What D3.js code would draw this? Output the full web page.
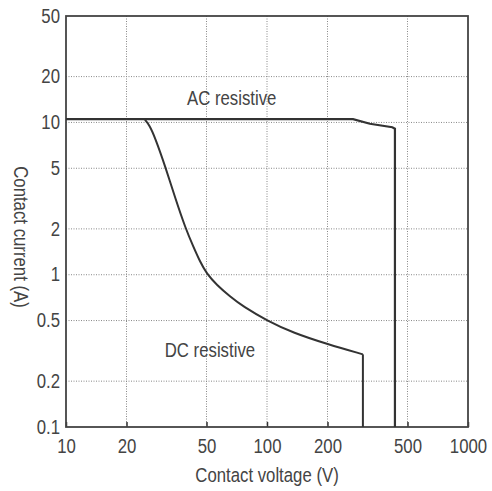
<!DOCTYPE html>
<html>
<head>
<meta charset="utf-8">
<script src="https://cdn.jsdelivr.net/npm/d3@7"></script>
<style>
  body { margin: 0; background: #fff; }
  text { font-family: "Liberation Sans", Arial, sans-serif; fill: #444; }
</style>
</head>
<body>
<div id="container"></div>
<script>
/* CONSTANTS AND GLOBALS */
const width = 492,
  height = 491,
  margin = {top: 16, bottom: 64, left: 66, right: 24};
const squeeze = 0.86; // narrow-looking glyphs
const fontSize = "19.5px";

/* DATA */
const xTicks = [10, 20, 50, 100, 200, 500, 1000];
const yTicks = [0.1, 0.2, 0.5, 1, 2, 5, 10, 20, 50];

// AC resistive limit [voltage, current]
const acVoltage = [10, 268, 325, 420, 433, 433];
const acCurrent = [10.5, 10.5, 9.8, 9.3, 9.1, 0.1];

// DC resistive limit
const dcVoltage = [24.7, 26, 27.7, 31.4, 34.8, 39.4, 43, 46.4, 50, 56.2, 65.5, 76, 100, 135, 200, 300];
const dcCurrent = [10.4, 9.6, 8, 5, 3.24, 2, 1.53, 1.22, 1.02, 0.857, 0.72, 0.619, 0.5, 0.415, 0.35, 0.3];
const dcCutoff = [300, 0.3, 0.1]; // voltage, from current, to current

const labels = [
  {text: "AC resistive", v: 40, i: 14.5},
  {text: "DC resistive", v: 31, i: 0.32}
];

// SCALES
const xScale = d3.scaleLog()
  .domain([10, 1000])
  .range([margin.left, width - margin.right]);

const yScale = d3.scaleLog()
  .domain([0.1, 50])
  .range([height - margin.bottom, margin.top]);

// CREATE SVG ELEMENT
const svg = d3.select("#container")
  .append("svg")
  .attr("width", width)
  .attr("height", height)
  .style("background-color", "#fff");

// GRID
svg.append("g")
  .selectAll("line")
  .data(xTicks.slice(1, -1))
  .join("line")
  .attr("x1", d => xScale(d))
  .attr("x2", d => xScale(d))
  .attr("y1", margin.top)
  .attr("y2", height - margin.bottom)
  .attr("stroke", "#888")
  .attr("stroke-dasharray", "1,1.5");

svg.append("g")
  .selectAll("line")
  .data(yTicks.slice(1, -1))
  .join("line")
  .attr("x1", margin.left)
  .attr("x2", width - margin.right)
  .attr("y1", d => yScale(d))
  .attr("y2", d => yScale(d))
  .attr("stroke", "#888")
  .attr("stroke-dasharray", "1,1.5");

// BUILD AND CALL AXES
const xAxis = d3.axisBottom(xScale)
  .tickValues(xTicks)
  .tickFormat(d3.format("d"))
  .tickSizeInner(-5)
  .tickSizeOuter(0)
  .tickPadding(12);

const xAxisGroup = svg.append("g")
  .attr("class", "xAxis")
  .attr("transform", `translate(0, ${height - margin.bottom})`)
  .call(xAxis);

const yAxis = d3.axisLeft(yScale)
  .tickValues(yTicks)
  .tickFormat(d => d)
  .tickSize(0)
  .tickPadding(7);

const yAxisGroup = svg.append("g")
  .attr("class", "yAxis")
  .attr("transform", `translate(${margin.left}, 0)`)
  .call(yAxis);

svg.selectAll(".xAxis text, .yAxis text")
  .style("font-size", fontSize)
  .attr("fill", "#444")
  .attr("transform", `scale(${squeeze},1)`);
svg.selectAll(".xAxis .tick line").attr("stroke", "#333").attr("stroke-width", 1.5);
svg.selectAll(".domain").remove();

// frame
svg.append("rect")
  .attr("x", margin.left)
  .attr("y", margin.top)
  .attr("width", width - margin.left - margin.right)
  .attr("height", height - margin.top - margin.bottom)
  .attr("fill", "none")
  .attr("stroke", "#444")
  .attr("stroke-width", 1.8);

// axis titles
svg.append("text")
  .attr("transform", `translate(${(margin.left + width - margin.right) / 2}, 482) scale(${squeeze},1)`)
  .attr("text-anchor", "middle")
  .style("font-size", fontSize)
  .text("Contact voltage (V)");

svg.append("text")
  .attr("transform", `translate(14, 237) rotate(90) scale(${squeeze},1)`)
  .attr("text-anchor", "middle")
  .style("font-size", fontSize)
  .text("Contact current (A)");

// LINES
const lineGen = d3.line()
  .x(d => xScale(d[0]))
  .y(d => yScale(d[1]));

svg.append("path")
  .datum(d3.zip(acVoltage, acCurrent))
  .attr("fill", "none")
  .attr("stroke", "#333")
  .attr("stroke-width", 2.2)
  .attr("d", lineGen);

svg.append("path")
  .datum(d3.zip(dcVoltage, dcCurrent))
  .attr("fill", "none")
  .attr("stroke", "#333")
  .attr("stroke-width", 2)
  .attr("d", lineGen.curve(d3.curveBasis));

svg.append("line")
  .attr("x1", xScale(dcCutoff[0]))
  .attr("x2", xScale(dcCutoff[0]))
  .attr("y1", yScale(dcCutoff[1]))
  .attr("y2", yScale(dcCutoff[2]))
  .attr("stroke", "#333")
  .attr("stroke-width", 2);

// LABELS
svg.selectAll(".curveLabel")
  .data(labels)
  .join("text")
  .attr("class", "curveLabel")
  .attr("transform", d => `translate(${xScale(d.v)}, ${yScale(d.i)}) scale(${squeeze},1)`)
  .attr("dy", "0.35em")
  .style("font-size", fontSize)
  .text(d => d.text);
</script>
</body>
</html>
